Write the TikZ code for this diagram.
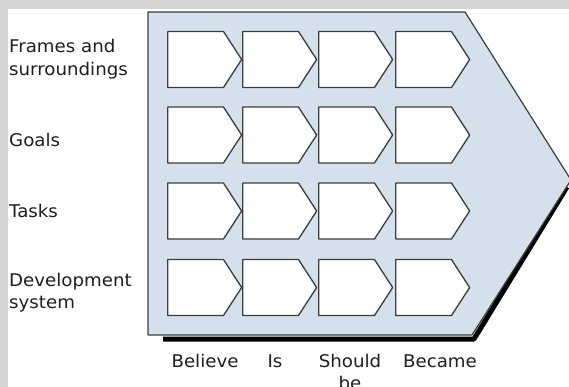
\documentclass[tikz,border=0pt]{standalone}
\usepackage{fontspec}
\setmainfont{DejaVu Sans}[FakeStretch=1.04]
\usetikzlibrary{shapes.symbols}
\definecolor{bandgray}{HTML}{D4D4D4}
\definecolor{panel}{HTML}{D4E0EB}
\definecolor{ink}{HTML}{3C3C3C}
\definecolor{shade}{HTML}{4E4E4E}
\definecolor{txt}{HTML}{1E1E1E}
\tikzset{
  stage/.style={signal, signal to=east, signal pointer angle=114, draw=ink, fill=white,
    line width=1.3pt, minimum width=74pt, minimum height=56pt, inner sep=0pt, line join=round, anchor=west},
  rowlabel/.style={anchor=base west, text=txt, font=\fontsize{17.5}{23}\selectfont, inner sep=0pt},
  collabel/.style={anchor=base, text=txt, font=\fontsize{17.5}{22}\selectfont, inner sep=0pt}
}
\begin{document}
\begin{tikzpicture}[x=1pt,y=-1pt]
\useasboundingbox (0,0) rectangle (569,387);
\clip (0,0) rectangle (569,387);
\fill[white] (0,0) rectangle (569,387);
\fill[bandgray] (0,0) rectangle (569,9);
\fill[bandgray] (0,0) rectangle (8,387);
% shadow
\draw[shade, line width=5pt, line join=round] (163,339) -- (474,339) -- (567,187);
% panel
\draw[ink, fill=panel, line width=1.2pt, line join=round]
  (148,12) -- (465,12) -- (571,180) -- (472,335) -- (148,335) -- cycle;
% boxes
\foreach \r/\y in {1/59.5,2/135,3/211,4/287.5}{
  \foreach \c/\x in {1/167,2/242,3/318,4/395}{
    \node[stage] (b\r\c) at (\x,\y) {};
  }
}
% row labels
\node[rowlabel] (l1a) at (9,53) {Frames and};
\node[rowlabel] (l1b) at (9,76) {surroundings};
\node[rowlabel] (l2) at (9,147) {Goals};
\node[rowlabel] (l3) at (9,217) {Tasks};
\node[rowlabel] (l4a) at (9,286) {Development};
\node[rowlabel] (l4b) at (9,308) {system};
% column labels
\node[collabel] (c1) at (205,367) {Believe};
\node[collabel] (c2) at (275,367) {Is};
\node[collabel] (c3a) at (350,367) {Should};
\node[collabel] (c3b) at (350,389) {be};
\node[collabel] (c4) at (440,367) {Became};
\end{tikzpicture}
\end{document}
